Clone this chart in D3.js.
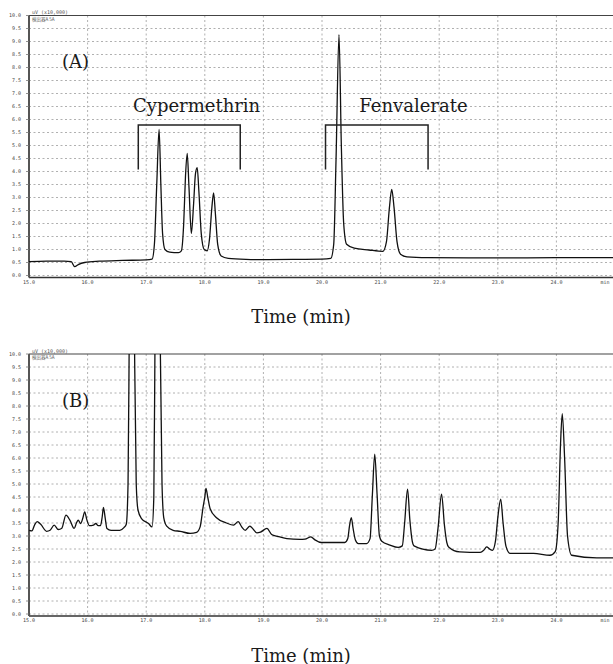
<!DOCTYPE html>
<html>
<head>
<meta charset="utf-8">
<script src="https://cdn.jsdelivr.net/npm/d3@7"></script>
<style>
  body { margin: 0; background: #fff; }
  svg { display: block; }
</style>
</head>
<body>
<div id="chart"></div>
<script>
// retention time (min) and signal (uV x10,000)
var timeA = [15.00, 15.30, 15.60, 15.72, 15.78, 15.84, 15.95, 16.20, 16.60, 17.00, 17.10, 17.14, 17.18, 17.22, 17.25, 17.28, 17.32, 17.40, 17.55, 17.60,
  17.64, 17.67, 17.70, 17.73, 17.77, 17.81, 17.84, 17.87, 17.90, 17.94, 17.99, 18.04, 18.08, 18.12, 18.15, 18.18, 18.22, 18.28, 18.40, 18.70,
  19.00, 19.50, 20.00, 20.15, 20.20, 20.24, 20.29, 20.33, 20.37, 20.42, 20.55, 20.80, 21.04, 21.10, 21.15, 21.19, 21.23, 21.28, 21.34, 21.45,
  21.80, 22.50, 23.50, 24.50, 24.97];
var signalA = [0.53, 0.55, 0.55, 0.53, 0.34, 0.42, 0.50, 0.55, 0.58, 0.60, 0.63, 1.20, 3.50, 5.62, 3.50, 1.60, 1.00, 0.90, 0.88, 0.95,
  2.00, 3.80, 4.70, 3.40, 1.62, 2.80, 3.90, 4.15, 3.20, 1.60, 1.00, 0.95, 1.40, 2.60, 3.18, 2.40, 1.20, 0.75, 0.66, 0.62,
  0.61, 0.62, 0.63, 0.66, 1.20, 4.50, 9.26, 5.00, 2.00, 1.20, 1.05, 0.98, 0.93, 1.30, 2.60, 3.31, 2.60, 1.30, 0.82, 0.72,
  0.69, 0.68, 0.68, 0.69, 0.69];

var timeB = [15.00, 15.05, 15.10, 15.14, 15.20, 15.30, 15.36, 15.43, 15.50, 15.56, 15.63, 15.70, 15.77, 15.81, 15.84, 15.88, 15.92, 15.95, 15.99, 16.03,
  16.10, 16.14, 16.18, 16.22, 16.25, 16.27, 16.30, 16.33, 16.40, 16.55, 16.62, 16.66, 16.69, 16.71, 16.75, 16.80, 16.83, 16.86, 16.92, 17.04,
  17.10, 17.13, 17.15, 17.19, 17.24, 17.27, 17.30, 17.35, 17.46, 17.58, 17.75, 17.86, 17.92, 17.97, 18.00, 18.02, 18.05, 18.09, 18.20, 18.37,
  18.49, 18.57, 18.63, 18.69, 18.77, 18.80, 18.89, 18.95, 19.06, 19.14, 19.25, 19.40, 19.62, 19.71, 19.81, 19.88, 19.99, 20.39, 20.44, 20.47,
  20.50, 20.53, 20.57, 20.62, 20.76, 20.82, 20.86, 20.90, 20.94, 20.98, 21.02, 21.16, 21.30, 21.37, 21.41, 21.46, 21.50, 21.54, 21.57, 21.87,
  21.93, 21.98, 22.04, 22.09, 22.13, 22.16, 22.35, 22.70, 22.76, 22.81, 22.86, 22.91, 22.96, 23.00, 23.05, 23.09, 23.14, 23.21, 23.61, 23.89,
  23.98, 24.03, 24.07, 24.10, 24.14, 24.19, 24.26, 24.69, 24.97];
var signalB = [3.22, 3.20, 3.45, 3.55, 3.45, 3.18, 3.22, 3.42, 3.25, 3.30, 3.80, 3.60, 3.29, 3.50, 3.61, 3.48, 3.70, 3.93, 3.60, 3.40,
  3.42, 3.48, 3.40, 3.40, 3.75, 4.10, 3.70, 3.29, 3.22, 3.22, 3.32, 3.45, 5.00, 10.5, 25.0, 10.5, 5.00, 4.00, 3.67, 3.48,
  3.35, 4.50, 10.5, 25.0, 10.5, 5.00, 3.70, 3.38, 3.22, 3.18, 3.10, 3.14, 3.35, 4.10, 4.50, 4.83, 4.50, 4.06, 3.70, 3.50,
  3.42, 3.55, 3.35, 3.22, 3.38, 3.33, 3.12, 3.15, 3.29, 3.06, 2.98, 2.90, 2.87, 2.88, 2.97, 2.85, 2.75, 2.75, 2.90, 3.40,
  3.71, 3.30, 2.85, 2.71, 2.71, 2.90, 4.60, 6.15, 4.60, 3.00, 2.80, 2.65, 2.56, 2.62, 3.50, 4.80, 3.60, 2.80, 2.62, 2.45,
  2.50, 3.30, 4.61, 3.40, 2.75, 2.58, 2.39, 2.37, 2.45, 2.58, 2.50, 2.45, 2.80, 3.70, 4.42, 3.50, 2.60, 2.33, 2.33, 2.26,
  2.40, 3.50, 6.50, 7.71, 6.00, 3.00, 2.26, 2.16, 2.16];

var xTicks = [15, 16, 17, 18, 19, 20, 21, 22, 23, 24];
var xTickLabels = ["15.0", "16.0", "17.0", "18.0", "19.0", "20.0", "21.0", "22.0", "23.0", "24.0"];
var yTicks = [0, 0.5, 1, 1.5, 2, 2.5, 3, 3.5, 4, 4.5, 5, 5.5, 6, 6.5, 7, 7.5, 8, 8.5, 9, 9.5, 10];
var yTickLabels = ["0.0", "0.5", "1.0", "1.5", "2.0", "2.5", "3.0", "3.5", "4.0", "4.5", "5.0",
  "5.5", "6.0", "6.5", "7.0", "7.5", "8.0", "8.5", "9.0", "9.5", "10.0"];

// brackets over peak groups in (A): name, bracket start/end time, label centre time
var groupNames = ["Cypermethrin", "Fenvalerate"];
var groupStart = [16.865, 20.06];
var groupEnd = [18.605, 21.81];
var groupLabelAt = [17.86, 21.56];

var W = 613, H = 664;
var svg = d3.select("#chart").append("svg")
    .attr("width", W)
    .attr("height", H);

var x = d3.scaleLinear().domain([15, 25]).range([29, 615]);

function drawPanel(top, times, values, label, id) {
    var g = svg.append("g").attr("transform", "translate(0," + top + ")");
    var y = d3.scaleLinear().domain([0, 10]).range([275.5, 15.5]);

    // grid
    g.selectAll(".hgrid").data(yTicks.slice(0, -1)).enter().append("line")
        .attr("x1", x(15)).attr("x2", W)
        .attr("y1", function (d) { return y(d); })
        .attr("y2", function (d) { return y(d); })
        .attr("stroke", "#b0b0b0").attr("stroke-width", 1)
        .attr("stroke-dasharray", "2,2.5");
    g.selectAll(".vgrid").data(xTicks.slice(1)).enter().append("line")
        .attr("x1", function (d) { return x(d); })
        .attr("x2", function (d) { return x(d); })
        .attr("y1", y(10)).attr("y2", y(0) + 2)
        .attr("stroke", "#b0b0b0").attr("stroke-width", 1)
        .attr("stroke-dasharray", "2,2.5");

    // frame
    g.append("line").attr("x1", x(15)).attr("x2", W)
        .attr("y1", y(10)).attr("y2", y(10))
        .attr("stroke", "#444").attr("stroke-width", 1.2);
    g.append("line").attr("x1", x(15)).attr("x2", W)
        .attr("y1", y(0) + 2).attr("y2", y(0) + 2)
        .attr("stroke", "#333").attr("stroke-width", 1.5);
    g.append("line").attr("x1", x(15)).attr("x2", x(15))
        .attr("y1", y(10)).attr("y2", y(0) + 2)
        .attr("stroke", "#555").attr("stroke-width", 2);

    // y tick labels
    g.selectAll(".ylab").data(yTicks).enter().append("text")
        .attr("x", 21)
        .attr("y", function (d) { return y(d) + 1.8; })
        .attr("text-anchor", "end")
        .attr("font-family", "DejaVu Sans Mono")
        .attr("font-size", 5)
        .attr("fill", "#444")
        .text(function (d, i) { return yTickLabels[i]; });
    g.selectAll(".ytick").data(yTicks).enter().append("line")
        .attr("x1", x(15) - 3).attr("x2", x(15))
        .attr("y1", function (d) { return y(d); })
        .attr("y2", function (d) { return y(d); })
        .attr("stroke", "#777").attr("stroke-width", 0.8);

    // x tick labels
    g.selectAll(".xlab").data(xTicks).enter().append("text")
        .attr("x", function (d) { return x(d); })
        .attr("y", y(0) + 8)
        .attr("text-anchor", "middle")
        .attr("font-family", "DejaVu Sans Mono")
        .attr("font-size", 5)
        .attr("fill", "#444")
        .text(function (d, i) { return xTickLabels[i]; });
    g.append("text")
        .attr("x", 605).attr("y", y(0) + 8)
        .attr("text-anchor", "middle")
        .attr("font-family", "DejaVu Sans Mono")
        .attr("font-size", 5)
        .attr("fill", "#444")
        .text("min");

    // header
    g.append("text")
        .attr("x", x(15) + 3).attr("y", y(10) - 1.5)
        .attr("font-family", "DejaVu Sans Mono").attr("font-size", 5)
        .attr("fill", "#555")
        .text("uV  (x10,000)");
    g.append("text")
        .attr("x", x(15) + 3).attr("y", y(10) + 5)
        .attr("font-family", "Noto Sans CJK JP").attr("font-size", 4.5)
        .attr("fill", "#555")
        .text("検出器A 5A");

    // trace
    g.append("clipPath").attr("id", "clip" + id)
        .append("rect")
        .attr("x", x(15)).attr("y", y(10))
        .attr("width", W - x(15)).attr("height", y(0) - y(10) + 2);

    var line = d3.line()
        .x(function (d) { return x(d[0]); })
        .y(function (d) { return y(d[1]); })
        .curve(d3.curveMonotoneX);

    g.append("path")
        .datum(d3.zip(times, values))
        .attr("clip-path", "url(#clip" + id + ")")
        .attr("d", line)
        .attr("fill", "none")
        .attr("stroke", "#111")
        .attr("stroke-width", 1.3);

    // panel label
    g.append("text")
        .attr("x", 62).attr("y", 68)
        .attr("font-family", "DejaVu Serif")
        .attr("font-size", 18)
        .attr("fill", "#1a1a1a")
        .text(label);

    // x axis title
    g.append("text")
        .attr("x", 301).attr("y", 323)
        .attr("text-anchor", "middle")
        .attr("font-family", "DejaVu Serif")
        .attr("font-size", 18)
        .attr("fill", "#1a1a1a")
        .text("Time (min)");

    return { g: g, y: y };
}

var panelA = drawPanel(0, timeA, signalA, "(A)", "A");
var panelB = drawPanel(338.5, timeB, signalB, "(B)", "B");

// brackets on (A)
var ya = panelA.y;
groupNames.forEach(function (name, i) {
    var x0 = x(groupStart[i]), x1 = x(groupEnd[i]);
    panelA.g.append("path")
        .attr("d", "M" + x0 + "," + ya(4.08) + "V" + ya(5.79) + "H" + x1 + "V" + ya(4.08))
        .attr("fill", "none")
        .attr("stroke", "#222")
        .attr("stroke-width", 1.5);
    panelA.g.append("text")
        .attr("x", x(groupLabelAt[i]))
        .attr("y", ya(6.3))
        .attr("text-anchor", "middle")
        .attr("font-family", "DejaVu Serif")
        .attr("font-size", 18)
        .attr("fill", "#1a1a1a")
        .text(name);
});
</script>
</body>
</html>
